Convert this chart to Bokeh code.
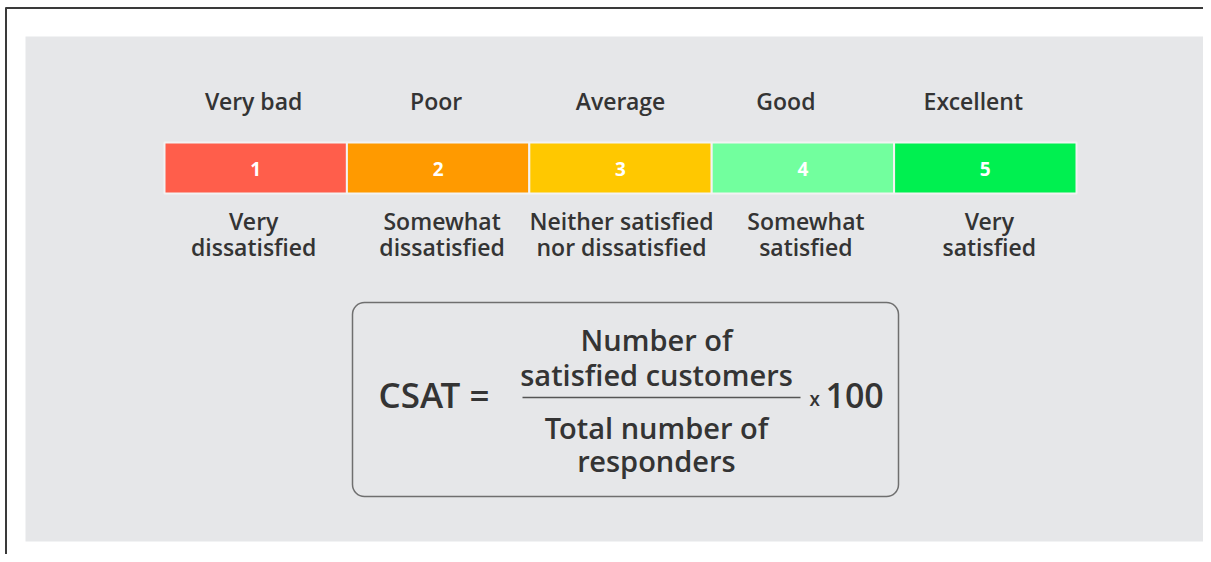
from bokeh.plotting import figure
from bokeh.models import Range1d
from bokeh.embed import file_html
from bokeh.resources import INLINE
from bokeh.core.properties import value

# ---- data ----
scores = [1, 2, 3, 4, 5]
ratings = ["Very bad", "Poor", "Average", "Good", "Excellent"]
meanings_line1 = ["Very", "Somewhat", "Neither satisfied", "Somewhat", "Very"]
meanings_line2 = ["dissatisfied", "dissatisfied", "nor dissatisfied", "satisfied", "satisfied"]
formula_left = "CSAT ="
numerator = ["Number of", "satisfied customers"]
denominator = ["Total number of", "responders"]
multiplier_sign = "x"
multiplier = "100"

# ---- style ----
palette = ["#ff5e4b", "#ff9a00", "#ffc800", "#72ff9e", "#00f050"]
FONT = value("'Open Sans SemiBold', 'Open Sans'")
TXT = "#343434"
PANEL = "#e6e7e9"

W, H = 1203, 554
p = figure(width=W, height=H, output_backend="svg", toolbar_location=None,
           x_range=Range1d(0, W), y_range=Range1d(H, 0),
           min_border=0, outline_line_color=None)
p.axis.visible = False
p.grid.visible = False
p.background_fill_color = "white"
p.border_fill_color = "white"

# gray panel
p.quad(left=[25], right=[W], top=[36], bottom=[541], fill_color=PANEL, line_color=None)

# frame lines (left, top)
p.segment(x0=[5.5, 5], y0=[7, 7.5], x1=[5.5, W], y1=[H, 7.5], line_color="#3a3a3a", line_width=2)

# scale bar
x0, x1 = 164, 1076
step = (x1 - x0) / len(scores)
lefts = [x0 + i * step for i in range(len(scores))]
rights = [x0 + (i + 1) * step for i in range(len(scores))]
centers = [(a + b) / 2 for a, b in zip(lefts, rights)]
p.quad(left=lefts, right=rights, top=[142] * 5, bottom=[193] * 5,
       fill_color=palette, line_color="#f3f3f3", line_width=2)

p.text(x=centers, y=[168.5] * 5, text=[str(s) for s in scores], text_color="white",
       text_font=value("Open Sans"), text_font_style="bold", text_font_size="19px",
       text_align="center", text_baseline="middle")

# label offsets relative to bar centers
top_dx = [-2, -2, 0, -17, -12]
bot_dx = [-2, 4, 1, 3, 4]
p.text(x=[c + d for c, d in zip(centers, top_dx)], y=[100.5] * 5, text=ratings,
       text_color=TXT, text_font=FONT, text_font_size="23px",
       text_align="center", text_baseline="middle")
p.text(x=[c + d for c, d in zip(centers, bot_dx)], y=[220] * 5, text=meanings_line1,
       text_color=TXT, text_font=FONT, text_font_size="23px",
       text_align="center", text_baseline="middle")
p.text(x=[c + d for c, d in zip(centers, bot_dx)], y=[246.5] * 5, text=meanings_line2,
       text_color=TXT, text_font=FONT, text_font_size="23px",
       text_align="center", text_baseline="middle")

# formula box
p.quad(left=[352], right=[898], top=[302], bottom=[496], fill_color=PANEL,
       line_color="#6f6f6f", line_width=1.5, border_radius=12)

p.text(x=[378], y=[394], text=[formula_left], text_color=TXT, text_font=FONT,
       text_font_size="35px", text_align="left", text_baseline="middle")
fx = 656
p.text(x=[fx, fx], y=[339, 374], text=numerator, text_color=TXT, text_font=FONT,
       text_font_size="29px", text_align="center", text_baseline="middle")
p.segment(x0=[522], y0=[397], x1=[800], y1=[397], line_color="#555555", line_width=1.5)
p.text(x=[fx, fx], y=[427, 460], text=denominator, text_color=TXT, text_font=FONT,
       text_font_size="29px", text_align="center", text_baseline="middle")
p.text(x=[809], y=[398], text=[multiplier_sign], text_color=TXT, text_font=FONT,
       text_font_size="19px", text_align="left", text_baseline="middle")
p.text(x=[825], y=[395], text=[multiplier], text_color=TXT, text_font=FONT,
       text_font_size="34px", text_align="left", text_baseline="middle")

open("out.html", "w").write(file_html(p, INLINE))
